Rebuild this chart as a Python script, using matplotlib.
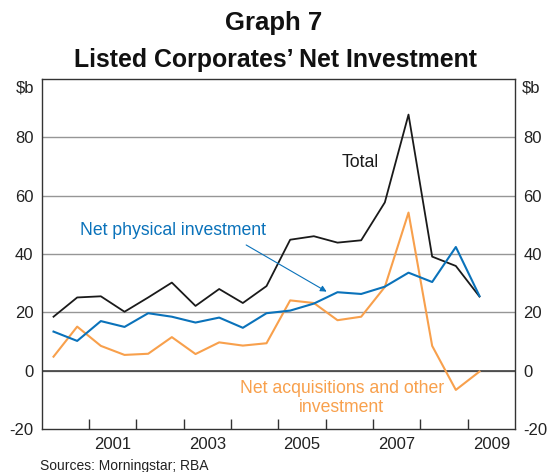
import numpy as np
import matplotlib.pyplot as plt

plt.rcParams["font.family"] = ["Liberation Sans", "DejaVu Sans"]
plt.rcParams["axes.unicode_minus"] = False

# half-yearly observations, plotted at mid-half positions
periods = np.arange(2000.25, 2009.26, 0.5)
total = [18.5, 25.1, 25.5, 20.2, 25.1, 30.2, 22.2, 28.0, 23.2, 29.0,
         44.9, 46.1, 43.9, 44.7, 57.7, 87.8, 39.1, 35.9, 25.4]
physical = [13.4, 10.2, 17.0, 15.0, 19.7, 18.5, 16.5, 18.2, 14.7, 19.7,
            20.6, 23.0, 26.9, 26.3, 28.8, 33.6, 30.4, 42.4, 25.6]
acquisitions = [4.8, 15.1, 8.5, 5.4, 5.8, 11.5, 5.7, 9.7, 8.6, 9.4,
                24.1, 23.2, 17.3, 18.5, 28.7, 54.2, 8.5, -6.6, -0.3]

year_ticks = list(range(2001, 2010))
year_labels = ["2001", "2003", "2005", "2007", "2009"]
y_ticks = [-20, 0, 20, 40, 60, 80]

BLACK = "#1a1a1a"
BLUE = "#0a72ba"
ORANGE = "#f8a04c"

fig = plt.figure(figsize=(5.47, 4.72), dpi=100)
ax = fig.add_axes([0.0762, 0.0911, 0.8653, 0.7415])

for y in y_ticks[1:]:
    ax.axhline(y, color="#969696", linewidth=1.0, zorder=1)
ax.axhline(0, color="#404040", linewidth=1.2, zorder=1)

ax.plot(periods, total, color=BLACK, linewidth=1.3, zorder=3)
ax.plot(periods, acquisitions, color=ORANGE, linewidth=1.5, zorder=2)
ax.plot(periods, physical, color=BLUE, linewidth=1.5, zorder=4)

ax.set_xlim(2000, 2010)
ax.set_ylim(-20, 100)

ax.set_xticks(year_ticks)
ax.set_xticklabels([])
ax.set_xticks([int(l) + 0.5 for l in year_labels], minor=True)
ax.set_xticklabels(year_labels, minor=True)
ax.tick_params(axis="x", which="major", direction="in", length=7, width=1, color="#333333")
ax.tick_params(axis="x", which="minor", length=0, labelsize=12, pad=5.5, labelcolor="#222222")

ax.set_yticks(y_ticks)
ax.tick_params(axis="y", length=0, labelsize=12, pad=6, labelright=True, right=False,
               labelcolor="#222222")

for s in ax.spines.values():
    s.set_color("#333333")
    s.set_linewidth(1.0)

ax.text(-0.016, 0.974, "$b", transform=ax.transAxes, ha="right", va="center",
        fontsize=12, color="#222222")
ax.text(1.014, 0.974, "$b", transform=ax.transAxes, ha="left", va="center",
        fontsize=12, color="#222222")

ax.text(2006.73, 71.5, "Total", color=BLACK, fontsize=12.7, ha="center", va="center")
ax.text(2002.77, 48.1, "Net physical investment", color=BLUE, fontsize=12.7,
        ha="center", va="center")
ax.annotate("", xy=(2006.02, 27.1), xytext=(2004.32, 43.1),
            arrowprops=dict(arrowstyle="-|>", color=BLUE, lw=0.8,
                            mutation_scale=9, shrinkA=0, shrinkB=0))
ax.text(2006.34, -9.4, "Net acquisitions and other\ninvestment", color=ORANGE,
        fontsize=12.7, ha="center", va="center", linespacing=1.12)

fig.text(0.5, 0.951, "Graph 7", ha="center", va="center", fontsize=18.5,
         fontweight="bold", color="#111111")
fig.text(0.503, 0.873, "Listed Corporates\u2019 Net Investment", ha="center", va="center",
         fontsize=17.9, fontweight="bold", color="#111111")
fig.text(0.073, 0.013, "Sources: Morningstar; RBA", ha="left", va="center",
         fontsize=10, color="#222222")

fig.savefig("out.png", dpi=100)
